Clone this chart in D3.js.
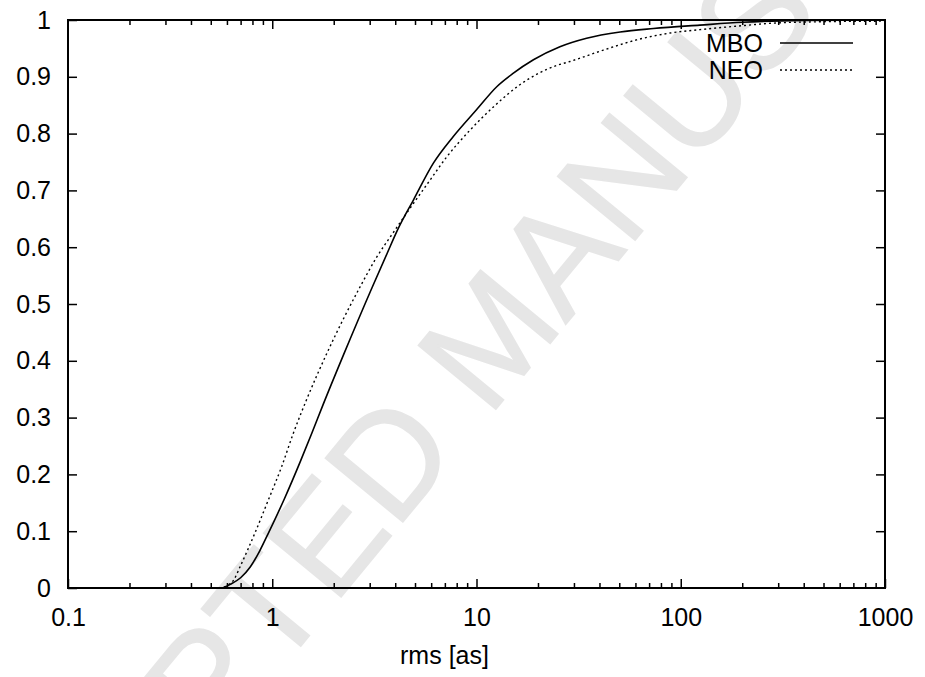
<!DOCTYPE html>
<html>
<head>
<meta charset="utf-8">
<script src="https://cdn.jsdelivr.net/npm/d3@7/dist/d3.min.js"></script>
<style>
	html, body {margin: 0; padding: 0; background: #fff;}
	svg {display: block;}
	text {font-family: 'Liberation Sans', Arial, Helvetica, sans-serif;}
</style>
</head>
<body>
<svg id="chart" width="925" height="677"></svg>
<script>
// values (rms in arcsec, cumulative fraction)
const mboRms = [0.57, 0.62, 0.70, 0.78, 0.87, 0.95, 1.15, 1.37, 1.56, 1.77, 2.23, 3.09,
	3.65, 4.14, 4.91, 6.15, 7.70, 10.0, 12.6, 15.1, 19.0, 25.6, 34.6, 50.5, 73.5, 124,
	200, 400, 1000];
const mboCdf = [0, 0.006, 0.018, 0.037, 0.066, 0.094, 0.158, 0.222, 0.272, 0.322, 0.410,
	0.530, 0.589, 0.633, 0.683, 0.748, 0.795, 0.842, 0.883, 0.906, 0.930, 0.953, 0.968,
	0.979, 0.985, 0.991, 0.996, 0.999, 1.0];

const neoRms = [0.55, 0.60, 0.65, 0.695, 0.823, 0.957, 1.11, 1.27, 1.47, 1.85, 2.69, 3.24,
	3.90, 4.55, 5.92, 7.15, 9.29, 12.1, 16.3, 24.7, 28.7, 41.8, 60.8, 88.5, 124, 200, 300,
	500, 1000];
const neoCdf = [0, 0.004, 0.015, 0.037, 0.097, 0.155, 0.213, 0.273, 0.331, 0.413, 0.530,
	0.582, 0.625, 0.660, 0.718, 0.759, 0.806, 0.847, 0.886, 0.920, 0.927, 0.947, 0.965,
	0.977, 0.983, 0.990, 0.995, 0.997, 0.998];

const xTicks = [0.1, 1, 10, 100, 1000];
const yTicks = [0, 0.1, 0.2, 0.3, 0.4, 0.5, 0.6, 0.7, 0.8, 0.9, 1];
const seriesNames = ['MBO', 'NEO'];
const xLabel = 'rms [as]';
const watermark = 'ACCEPTED MANUSCRIPT';

const margin = {top: 20, right: 40, bottom: 89, left: 68};
const width = 925 - margin.left - margin.right;
const height = 677 - margin.top - margin.bottom;
const fontSize = 25;

const svg = d3.select('#chart');

// grey watermark sits behind everything
svg.append('text')
	.attr('transform', 'translate(490,336) rotate(-50.5)')
	.attr('text-anchor', 'middle')
	.attr('dy', '0.35em')
	.attr('font-size', 146)
	.attr('fill', '#e6e6e6')
	.attr('stroke', '#e6e6e6')
	.attr('stroke-width', 1.5)
	.text(watermark);

const g = svg.append('g')
	.attr('transform', `translate(${margin.left},${margin.top})`);

const x = d3.scaleLog().domain([0.1, 1000]).range([0, width]);
const y = d3.scaleLinear().domain([0, 1]).range([height, 0]);

// minor ticks 2..9 in each decade
const minor = [];
for (let d = 0.1; d < 1000; d *= 10) {
	for (let k = 2; k <= 9; k++) minor.push(d * k);
}

function styleAxis(sel) {
	sel.select('.domain').remove();
	sel.selectAll('line').attr('stroke', '#000').attr('stroke-width', 1.5);
	sel.selectAll('text')
		.attr('font-size', fontSize)
		.attr('fill', '#000');
}

// bottom axis, ticks pointing inwards
g.append('g')
	.attr('transform', `translate(0,${height})`)
	.call(d3.axisBottom(x).tickValues(xTicks).tickSize(-9).tickPadding(20)
		.tickFormat(d3.format('')))
	.call(styleAxis);
g.append('g')
	.attr('transform', `translate(0,${height})`)
	.call(d3.axisBottom(x).tickValues(minor).tickSize(-5).tickFormat(''))
	.call(styleAxis);

// mirrored top axis
g.append('g')
	.call(d3.axisTop(x).tickValues(xTicks.slice(1, -1)).tickSize(-9).tickFormat(''))
	.call(styleAxis);
g.append('g')
	.call(d3.axisTop(x).tickValues(minor).tickSize(-5).tickFormat(''))
	.call(styleAxis);

// left and right axes
g.append('g')
	.call(d3.axisLeft(y).tickValues(yTicks).tickSize(-9).tickPadding(17)
		.tickFormat(d3.format('')))
	.call(styleAxis);
g.append('g')
	.attr('transform', `translate(${width},0)`)
	.call(d3.axisRight(y).tickValues(yTicks.slice(1, -1)).tickSize(-9).tickFormat(''))
	.call(styleAxis);

// frame
g.append('rect')
	.attr('width', width)
	.attr('height', height)
	.attr('fill', 'none')
	.attr('stroke', '#000')
	.attr('stroke-width', 2);

const line = d3.line()
	.x(d => x(d[0]))
	.y(d => y(d[1]))
	.curve(d3.curveMonotoneX);

const series = [
	{name: seriesNames[0], pts: d3.zip(mboRms, mboCdf), dash: null, w: 1.6},
	{name: seriesNames[1], pts: d3.zip(neoRms, neoCdf), dash: '2,3', w: 1.4},
];

g.selectAll('.curve')
	.data(series)
	.enter()
	.append('path')
	.attr('class', 'curve')
	.attr('d', d => line(d.pts))
	.attr('fill', 'none')
	.attr('stroke', '#000')
	.attr('stroke-width', d => d.w)
	.attr('stroke-dasharray', d => d.dash);

// legend, top right inside the frame
const legend = svg.append('g');
series.forEach((s, i) => {
	const ly = 43 + i * 27;
	legend.append('text')
		.attr('x', 763)
		.attr('y', ly)
		.attr('dy', '0.35em')
		.attr('text-anchor', 'end')
		.attr('font-size', fontSize)
		.text(s.name);
	legend.append('line')
		.attr('x1', 780)
		.attr('x2', 853)
		.attr('y1', ly)
		.attr('y2', ly)
		.attr('stroke', '#000')
		.attr('stroke-width', s.w)
		.attr('stroke-dasharray', s.dash);
});

// x axis title
svg.append('text')
	.attr('x', margin.left + width / 2 - 32)
	.attr('y', 664)
	.attr('text-anchor', 'middle')
	.attr('font-size', fontSize)
	.text(xLabel);
</script>
</body>
</html>
